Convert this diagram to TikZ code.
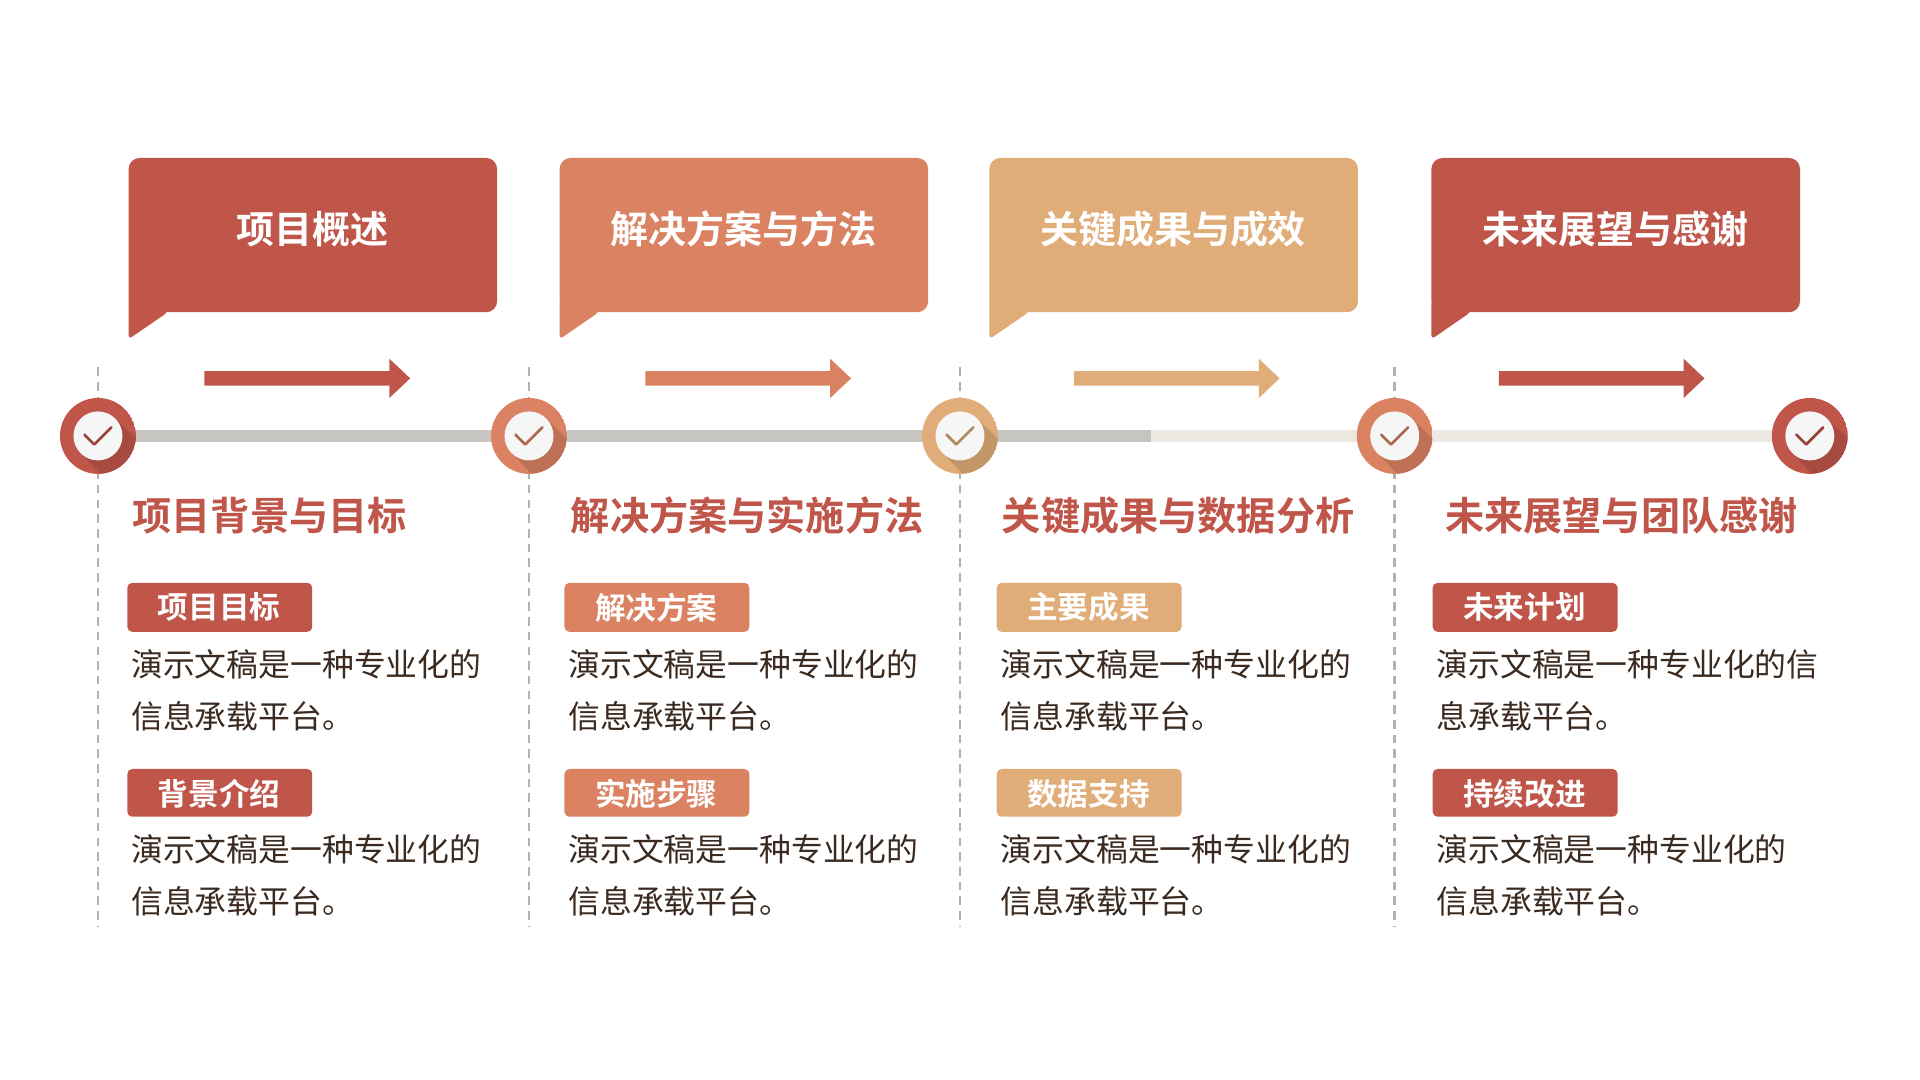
\documentclass[tikz,border=0pt]{standalone}
\usepackage{fontspec}
\setmainfont{Noto Sans CJK SC}
\newfontfamily\cjkb{Noto Sans CJK SC Bold}
\begin{document}
\begin{tikzpicture}[x=1pt,y=-1pt,
  hd/.style={font=\cjkb\fontsize{31}{31}\selectfont,text=white},
  ttl/.style={font=\cjkb\fontsize{32}{32}\selectfont,text=cred,anchor=west,inner sep=0pt},
  tag/.style={font=\cjkb\fontsize{25}{25}\selectfont,text=white},
  body/.style={font=\fontsize{26}{43}\selectfont,text=cbody,anchor=north west,align=left,inner sep=0pt}]
\definecolor{cred}{HTML}{C0554A}
\definecolor{corg}{HTML}{DA8262}
\definecolor{ctan}{HTML}{E0AC78}
\definecolor{cbody}{HTML}{3B2A20}
\definecolor{cgr}{HTML}{C6C5BF}
\definecolor{clt}{HTML}{EBE9E1}
\useasboundingbox (0,0) rectangle (1568,882);
\fill[white] (0,0) rectangle (1568,882);
% dashed guides
\foreach \x/\n in {80/a,432/b,784/c,1139/d}
  \draw[gray!60,line width=2pt,dash pattern=on 7pt off 5pt] (\x,300) coordinate (t\n) -- (\x,757) coordinate (b\n);
% timeline
\draw[clt,line width=10pt] (940,356) -- (1478,356);
\draw[cgr,line width=10pt] (80,356) -- (940,356);
% bubbles, arrows
\foreach \x/\a/\c/\t/\i in {105/167/cred/项目概述/1,457/527/corg/解决方案与方法/2,808/877/ctan/关键成果与成效/3,1169/1224/cred/未来展望与感谢/4}{
  \fill[\c,rounded corners=9pt] (\x,129) rectangle (\x+301,255);
  \fill[\c,rounded corners=3pt] (\x,245) -- (\x,277) -- (\x+32,255) -- (\x+32,245) -- cycle;
  \node[hd] (h\i) at (\x+150,187) {\t};
  \fill[\c] (\a,303) -- (\a+151,303) -- (\a+151,293) -- (\a+168,309) -- (\a+151,325) -- (\a+151,315) -- (\a,315) -- cycle;
}
% circles
\foreach \x/\c/\i in {80/cred/1,432/corg/2,784/ctan/3,1139/corg/4,1478/cred/5}{
  \begin{scope}
  \clip (\x,356) circle (31);
  \fill[\c] (\x,356) circle (31);
  \fill[\c!75!black,opacity=.5] (\x-14,370) -- (\x+14,342) -- (\x+50,376) -- (\x+20,406) -- cycle;
  \end{scope}
  \node[circle,fill=white!93!gray,minimum size=40pt,inner sep=0pt] (c\i) at (\x,356) {};
  \draw[\c!80!black,line width=2.2pt,line cap=round,line join=round] (\x-11,355) -- (\x-3,363) -- (\x+11,349);
}
% column content
\foreach \x/\tx/\c/\ti/\ta/\tb/\ba/\i in {
  104/108/cred/项目背景与目标/项目目标/背景介绍/{演示文稿是一种专业化的\\信息承载平台。}/1,
  461/466/corg/解决方案与实施方法/解决方案/实施步骤/{演示文稿是一种专业化的\\信息承载平台。}/2,
  814/818/ctan/关键成果与数据分析/主要成果/数据支持/{演示文稿是一种专业化的\\信息承载平台。}/3,
  1170/1180/cred/未来展望与团队感谢/未来计划/持续改进/{演示文稿是一种专业化的信\\息承载平台。}/4}{
  \node[ttl] (ti\i) at (\tx,421) {\ti};
  \fill[\c,rounded corners=4pt] (\x,476) rectangle (\x+151,516);
  \node[tag] (ta\i) at (\x+75,496) {\ta};
  \node[body] (ba\i) at (\x+3,530) {\ba};
  \fill[\c,rounded corners=4pt] (\x,628) rectangle (\x+151,667);
  \node[tag] (tb\i) at (\x+75,648) {\tb};
  \node[body] (bb\i) at (\x+3,681) {演示文稿是一种专业化的\\信息承载平台。};
}
\end{tikzpicture}
\end{document}
